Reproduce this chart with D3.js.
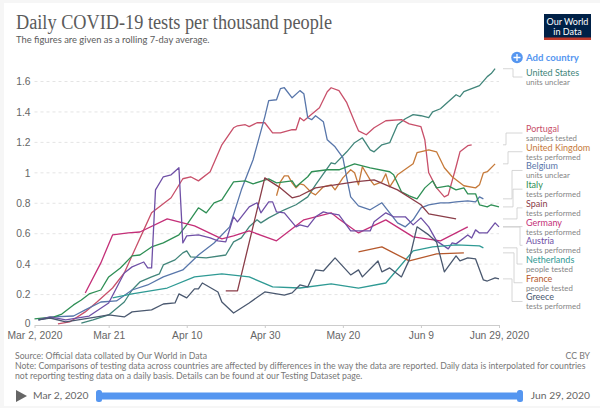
<!DOCTYPE html>
<html>
<head>
<meta charset="utf-8">
<script src="https://cdn.jsdelivr.net/npm/d3@7"></script>
<style>
  html, body { margin: 0; padding: 0; background: #f6f6f6; overflow: hidden; }
  svg { display: block; font-family: Lato, sans-serif; }
  .axis-label { fill: #666; font-size: 10.3px; }
  .foot { fill: #777; font-size: 8.7px; }
  .country { font-size: 9px; font-weight: 400; }
  .unit { fill: #858585; font-size: 7.8px; }
</style>
</head>
<body>
<div id="chart"></div>
<script>
const START_DATE = Date.UTC(2020, 2, 2)
const END_DAY = 119

const yTicks = [0, 0.2, 0.4, 0.6, 0.8, 1, 1.2, 1.4, 1.6]
const xTickDays = [0, 19, 39, 59, 79, 99, 119]
const xTickLabels = ['Mar 2, 2020', 'Mar 21', 'Apr 10', 'Apr 30', 'May 20', 'Jun 9', 'Jun 29, 2020']

// [days since Mar 2, tests per thousand]
const unitedStates = [[12,.013],[15,.033],[19,.066],[23,.151],[25,.23],[27,.283],[30,.316],[32,.336],[33,.395],[36,.428],[38,.474],[39,.487],[40,.447],[44,.441],[49,.46],[51,.546],[53,.572],[55,.645],[57,.691],[58,.671],[60,.704],[64,.757],[67,.79],[70,.842],[72,.921],[76,1.066],[77,1.059],[80,1.138],[82,1.198],[84,1.23],[86,1.151],[87,1.138],[89,1.184],[91,1.198],[93,1.316],[95,1.355],[97,1.382],[99,1.375],[101,1.362],[102,1.401],[104,1.421],[108,1.513],[109,1.5],[110,1.533],[114,1.573],[116,1.632],[117,1.652],[118,1.684]]
const portugal = [[6,.007],[9,.02],[13,.086],[16,.151],[20,.243],[23,.342],[26,.513],[28,.625],[30,.737],[35,.836],[38,.961],[40,.974],[42,.947],[45,1.007],[48,1.184],[51,1.296],[52,1.309],[54,1.316],[55,1.303],[57,1.329],[59,1.329],[61,1.263],[63,1.263],[66,1.283],[67,1.283],[68,1.362],[69,1.342],[73,1.428],[75,1.533],[76,1.559],[78,1.54],[80,1.461],[82,1.336],[83,1.276],[85,1.25],[87,1.296],[90,1.342],[94,1.349],[96,1.322],[99,1.303],[100,1.217],[101,1],[103,.901],[105,.842],[106,.855],[108,1.04],[109,1.138],[111,1.178],[112,1.184]]
const unitedKingdom = [[62,.849],[63,.941],[64,.98],[65,.98],[66,.934],[67,.901],[68,.928],[69,.921],[71,.869],[72,.855],[74,.908],[76,.921],[77,.888],[79,.967],[81,1.02],[82,1],[83,.921],[84,1.04],[86,.954],[87,.921],[89,.941],[90,.993],[91,.908],[93,.987],[97,1.059],[98,1.132],[101,1.151],[103,1.138],[105,1.033],[107,.974],[110,.915],[113,.901],[114,.921],[115,1],[116,1.007],[118,1.059]]
const belgium = [[1,.033],[5,.053],[10,.059],[13,.099],[17,.151],[21,.158],[25,.23],[29,.263],[33,.316],[38,.362],[42,.46],[46,.539],[50,.645],[53,.888],[56,1.086],[59,1.368],[60,1.474],[62,1.48],[63,1.553],[64,1.559],[66,1.493],[68,1.54],[69,1.52],[70,1.362],[71,1.349],[72,1.375],[74,1.336],[75,1.217],[77,1.171],[79,1.099],[80,.967],[81,.842],[83,.783],[86,.757],[89,.803],[91,.737],[93,.671],[95,.645],[97,.691],[99,.77],[101,.79],[104,.803],[106,.803],[108,.809],[111,.816],[113,.809],[114,.842],[115,.829]]
const italy = [[0,.04],[5,.053],[7,.072],[10,.132],[12,.164],[14,.204],[17,.23],[19,.316],[22,.375],[25,.454],[27,.46],[30,.513],[33,.54],[37,.592],[39,.658],[42,.77],[44,.737],[46,.803],[48,.822],[51,.941],[54,.947],[56,.928],[60,.96],[62,.934],[66,.947],[67,.908],[70,.974],[71,1.007],[75,1.02],[78,1.02],[82,1.059],[86,1.033],[91,1.007],[92,.987],[94,.875],[96,.849],[98,.829],[100,.901],[102,.947],[103,.901],[106,.914],[108,.888],[110,.901],[111,.862],[113,.862],[114,.79],[116,.776],[117,.79],[119,.776]]
const spain = [[49,.224],[52,.224],[59,.967],[63,.901],[66,.836],[68,.849],[72,.901],[77,.921],[82,.941],[87,.954],[93,.888],[99,.79],[101,.73],[108,.697]]
const germany = [[13,.21],[17,.408],[20,.592],[24,.605],[27,.611],[34,.697],[41,.651],[48,.566],[51,.585],[55,.618],[62,.553],[69,.691],[76,.737],[78,.697],[83,.605],[90,.691],[97,.579],[104,.553],[111,.645]]
const austria = [[1,.033],[4,.053],[8,.033],[14,.059],[19,.145],[23,.342],[25,.382],[28,.414],[29,.375],[30,.375],[31,.888],[33,.974],[35,.987],[37,1.033],[38,.539],[39,.586],[42,.592],[45,.572],[47,.553],[49,.546],[51,.711],[52,.678],[55,.776],[57,.803],[58,.737],[60,.809],[61,.809],[62,.743],[64,.737],[67,.645],[68,.658],[70,.645],[72,.711],[74,.743],[75,.737],[78,.724],[81,.618],[86,.618],[87,.678],[90,.737],[92,.711],[95,.711],[97,.658],[99,.704],[101,.645],[103,.553],[106,.5],[107,.539],[108,.533],[111,.592],[112,.572],[113,.625],[114,.605],[116,.605],[118,.671],[119,.645]]
const netherlands = [[20,.178],[25,.204],[34,.243],[41,.316],[48,.336],[55,.316],[61,.25],[68,.243],[76,.27],[83,.243],[90,.276],[97,.487],[102,.513],[108,.526],[114,.52],[115,.507]]
const france = [[83,.48],[89,.513],[96,.421],[103,.467],[110,.474]]
const greece = [[1,.033],[4,.046],[8,.02],[16,.053],[19,.066],[23,.053],[25,.086],[30,.099],[33,.138],[36,.145],[37,.204],[39,.178],[41,.237],[42,.237],[43,.276],[47,.217],[48,.151],[51,.079],[55,.145],[59,.217],[64,.197],[66,.211],[68,.263],[70,.25],[72,.362],[74,.355],[77,.441],[81,.329],[83,.362],[84,.316],[88,.421],[89,.349],[91,.375],[94,.316],[96,.428],[98,.645],[101,.592],[103,.546],[105,.349],[108,.454],[109,.421],[111,.441],[113,.434],[115,.296],[116,.289],[118,.309],[119,.303]]

const seriesNames = ['United States', 'Portugal', 'United Kingdom', 'Belgium', 'Italy', 'Spain', 'Germany', 'Austria', 'Netherlands', 'France', 'Greece']
const seriesUnits = ['units unclear', 'samples tested', 'tests performed', 'units unclear', 'tests performed', 'tests performed', 'tests performed', 'tests performed', 'people tested', 'people tested', 'tests performed']
const seriesValues = [unitedStates, portugal, unitedKingdom, belgium, italy, spain, germany, austria, netherlands, france, greece]
const seriesColors = ['#41857a', '#c8506a', '#c67a3a', '#5876aa', '#2f8f55', '#8a3d48', '#c42f78', '#6f50a6', '#2f9a94', '#b5582c', '#4a586f']
const elbowX = [513, 506, 508, 512, 513, 517, 520, 520, 517, 514, 512]

const sourceLines = [
  'Source: Official data collated by Our World in Data',
  'Note: Comparisons of testing data across countries are affected by differences in the way the data are reported. Daily data is interpolated for countries',
  'not reporting testing data on a daily basis. Details can be found at our Testing Dataset page.',
]

const width = 600
const height = 408
const dayMs = 86400000

const svg = d3.select('#chart').append('svg').attr('width', width).attr('height', height)

// card behind everything
svg.append('rect').attr('x', 4).attr('y', 3).attr('width', 600).attr('height', 403).attr('fill', '#fff')

const x = d3
  .scaleUtc()
  .domain([new Date(START_DATE), new Date(START_DATE + END_DAY * dayMs)])
  .range([34.5, 499])
const y = d3.scaleLinear().domain([0, 1.6]).range([325, 81.5])
const dayX = (d) => x(new Date(START_DATE + d * dayMs))

const yAxisG = svg.append('g').attr('transform', 'translate(34.5,0)')
yAxisG.call(d3.axisLeft(y).tickValues(yTicks).tickFormat(d3.format('~g')).tickSize(0).tickPadding(4))
yAxisG.select('.domain').remove()
yAxisG.selectAll('text').attr('class', 'axis-label').attr('font-size', null).attr('font-family', null)
yAxisG.selectAll('.tick').filter((d) => d === 0).select('text').attr('dy', '0.1em')

svg
  .append('g')
  .selectAll('line')
  .data(yTicks.filter((d) => d > 0))
  .join('line')
  .attr('x1', 34.5)
  .attr('x2', 499)
  .attr('y1', (d) => y(d))
  .attr('y2', (d) => y(d))
  .attr('stroke', '#ddd')
  .attr('stroke-width', 0.8)
  .attr('stroke-dasharray', '3 3')

const xAxisG = svg.append('g').attr('transform', `translate(0,${y(0)})`)
xAxisG.call(
  d3
    .axisBottom(x)
    .tickValues(xTickDays.map((d) => new Date(START_DATE + d * dayMs)))
    .tickFormat((_d, i) => xTickLabels[i])
    .tickSize(3)
    .tickPadding(4)
    .tickSizeOuter(0),
)
xAxisG.selectAll('.domain, line').attr('stroke', '#ccc')
xAxisG.selectAll('text').attr('class', 'axis-label').attr('font-size', null).attr('font-family', null)

const line = d3
  .line()
  .x((d) => dayX(d[0]))
  .y((d) => y(d[1]))

svg
  .append('g')
  .selectAll('path')
  .data(seriesValues)
  .join('path')
  .attr('d', line)
  .attr('fill', 'none')
  .attr('stroke', (_d, i) => seriesColors[i])
  .attr('stroke-width', 1.3)
  .attr('stroke-linejoin', 'round')

// end labels with their elbow connectors
const labelY = (i) => (i === 0 ? 76 : 132 + (i - 1) * 18.72)

svg
  .append('g')
  .selectAll('path')
  .data(seriesValues)
  .join('path')
  .attr('fill', 'none')
  .attr('stroke', '#ccc')
  .attr('stroke-width', 0.8)
  .attr('d', (d, i) => {
    const endY = y(d[d.length - 1][1])
    return `M503,${endY}H${elbowX[i]}V${labelY(i) + 1}H522.5`
  })

const labels = svg.append('g').selectAll('g').data(seriesNames).join('g')
labels
  .append('text')
  .attr('class', 'country')
  .attr('x', 526)
  .attr('y', (_d, i) => labelY(i))
  .attr('fill', (_d, i) => seriesColors[i])
  .text((d) => d)
labels
  .append('text')
  .attr('class', 'unit')
  .attr('x', 526)
  .attr('y', (_d, i) => labelY(i) + 9)
  .text((_d, i) => seriesUnits[i])

// header
svg
  .append('text')
  .attr('x', 16)
  .attr('y', 29)
  .attr('fill', '#5b5b5b')
  .attr('font-family', "'Liberation Serif', serif")
  .attr('font-size', 20)
  .attr('textLength', 316)
  .attr('lengthAdjust', 'spacingAndGlyphs')
  .text('Daily COVID-19 tests per thousand people')
svg
  .append('text')
  .attr('x', 16)
  .attr('y', 43)
  .attr('fill', '#5b5b5b')
  .attr('font-size', 9.4)
  .text('The figures are given as a rolling 7-day average.')

// logo
svg.append('rect').attr('x', 544).attr('y', 14).attr('width', 47).attr('height', 26).attr('fill', '#002147')
svg.append('rect').attr('x', 544).attr('y', 37.5).attr('width', 47).attr('height', 2.5).attr('fill', '#c0392b')
svg
  .append('g')
  .selectAll('text')
  .data(['Our World', 'in Data'])
  .join('text')
  .attr('x', 567.5)
  .attr('y', (_d, i) => 24.5 + i * 10)
  .attr('text-anchor', 'middle')
  .attr('fill', '#fff')
  .attr('font-size', 9)
  .text((d) => d)

// add country button
svg.append('circle').attr('cx', 517).attr('cy', 57.5).attr('r', 5.8).attr('fill', '#5596f0')
svg.append('path').attr('d', 'M513.5,57.5H520.5M517,54V61').attr('stroke', '#fff').attr('stroke-width', 1.3)
svg
  .append('text')
  .attr('x', 526)
  .attr('y', 61)
  .attr('fill', '#5596f0')
  .attr('font-size', 9.6)
  .attr('font-weight', 700)
  .text('Add country')

// footer
svg
  .append('g')
  .selectAll('text')
  .data(sourceLines)
  .join('text')
  .attr('class', 'foot')
  .attr('x', 15)
  .attr('y', (_d, i) => 359 + i * 10)
  .text((d) => d)
svg.append('text').attr('class', 'foot').attr('x', 590).attr('y', 359).attr('text-anchor', 'end').text('CC BY')

// timeline
svg.append('path').attr('d', 'M16,390L27,396L16,402Z').attr('fill', '#666')
svg.append('text').attr('class', 'axis-label').attr('x', 33).attr('y', 399).text(xTickLabels[0])
svg.append('text').attr('class', 'axis-label').attr('x', 590).attr('y', 399).attr('text-anchor', 'end').text(xTickLabels[6])
svg.append('rect').attr('x', 97).attr('y', 392.5).attr('width', 423).attr('height', 7).attr('rx', 1).attr('fill', '#5596f0')
svg.append('rect').attr('x', 96).attr('y', 390).attr('width', 6).attr('height', 12).attr('rx', 2.5).attr('fill', '#5596f0')
svg.append('rect').attr('x', 517).attr('y', 390).attr('width', 6).attr('height', 12).attr('rx', 2.5).attr('fill', '#5596f0')
</script>
</body>
</html>
